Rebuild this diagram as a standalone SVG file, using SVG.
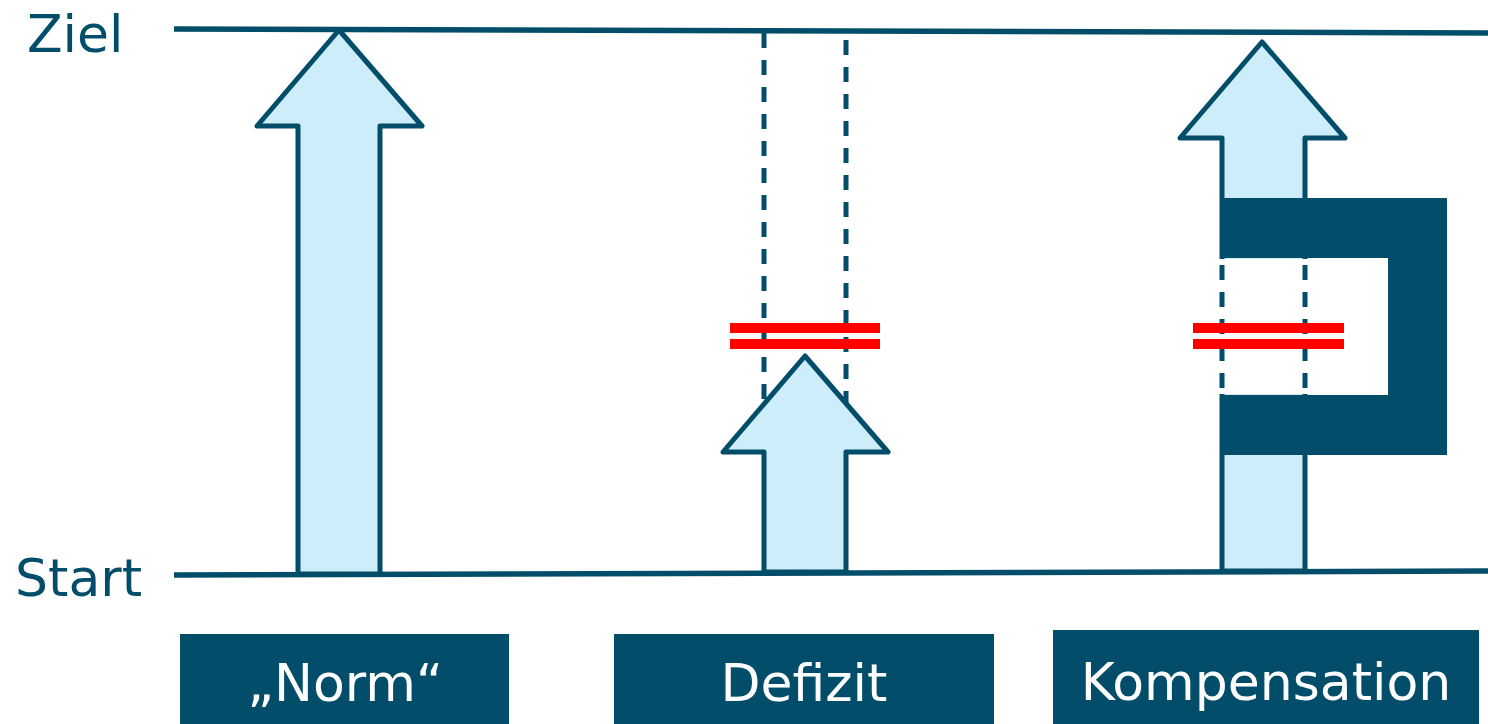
<svg xmlns="http://www.w3.org/2000/svg" width="1488" height="724" viewBox="0 0 1488 724">
<style>
.lbl{font-family:"DejaVu Sans","Liberation Sans",sans-serif;font-size:52px;fill:#024d6a}
.btxt{font-family:"DejaVu Sans","Liberation Sans",sans-serif;font-size:52px;fill:#ffffff;text-anchor:middle}
.box{fill:#024d6a}
.arrow{fill:#ccedf9;stroke:#024d6a;stroke-width:5;stroke-linejoin:round}
.line{stroke:#024d6a;stroke-width:5.5;fill:none}
.dash{stroke:#024d6a;stroke-width:5;stroke-dasharray:15 12;fill:none}
.red{stroke:#ff0000;stroke-width:10;fill:none}
</style>
<g id="axis">
<line class="line" x1="174" y1="29" x2="1488" y2="33"/>
<line class="line" x1="174" y1="575" x2="1488" y2="571"/>
<text class="lbl" x="27" y="52">Ziel</text>
<text class="lbl" x="15" y="596">Start</text>
</g>
<g id="norm">
<path class="arrow" d="M339,30 L422,126 L380,126 L380,574 L298,574 L298,126 L257,126 Z"/>
<rect class="box" x="180" y="634" width="329" height="90"/>
<text class="btxt" x="345" y="701">„Norm“</text>
</g>
<g id="defizit">
<line class="dash" x1="764" y1="33" x2="764" y2="400"/>
<line class="dash" x1="846" y1="40" x2="846" y2="405"/>
<path class="arrow" d="M805,356 L888,452 L846,452 L846,572 L764,572 L764,452 L723,452 Z"/>
<line class="red" x1="730" y1="328" x2="880" y2="328"/>
<line class="red" x1="730" y1="344" x2="880" y2="344"/>
<rect class="box" x="614" y="634" width="380" height="90"/>
<text class="btxt" x="804" y="701">Defizit</text>
</g>
<g id="kompensation">
<path class="arrow" d="M1262,42 L1345,138 L1305,138 L1305,571 L1222,571 L1222,138 L1180,138 Z"/>
<path fill="#024d6a" d="M1220,198 L1447,198 L1447,455 L1220,455 L1220,395 L1388,395 L1388,258 L1220,258 Z"/>
<rect fill="#ffffff" x="1215" y="259" width="172" height="135"/>
<line class="dash" x1="1222" y1="265" x2="1222" y2="395"/>
<line class="dash" x1="1305" y1="265" x2="1305" y2="395"/>
<line class="red" x1="1193" y1="328" x2="1344" y2="328"/>
<line class="red" x1="1193" y1="344" x2="1344" y2="344"/>
<rect class="box" x="1053" y="630" width="426" height="94"/>
<text class="btxt" x="1266" y="700">Kompensation</text>
</g>
</svg>
